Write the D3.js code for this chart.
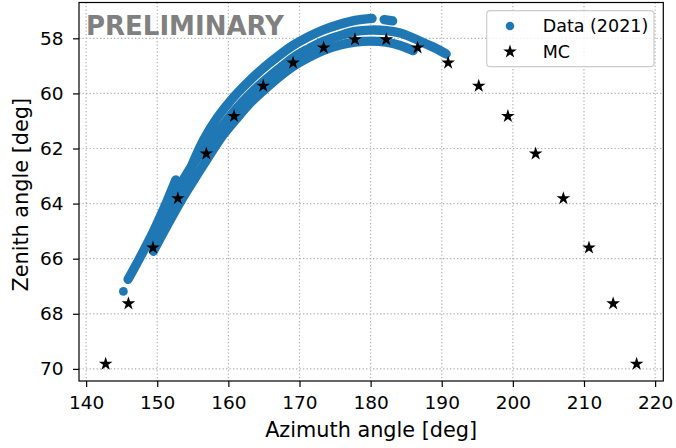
<!DOCTYPE html>
<html>
<head>
  <meta charset="UTF-8" />
  <script src="https://d3js.org/d3.v7.min.js"></script>
  <style>
    body { margin: 0; background: #fff; }
    text { font-family: "DejaVu Sans", sans-serif; }
  </style>
</head>
<body>
  <script>
    // MC points (azimuth, zenith) in degrees
    var mcAz = [142.75, 145.95, 149.4, 152.9, 156.9, 160.8, 164.9, 169.1, 173.4, 177.8,
                182.2, 186.6, 190.9, 195.2, 199.3, 203.2, 207.1, 210.7, 214.1, 217.4];
    var mcZen = [69.82, 67.63, 65.6, 63.81, 62.19, 60.83, 59.73, 58.89, 58.34, 58.04,
                 58.04, 58.34, 58.89, 59.73, 60.83, 62.19, 63.81, 65.6, 67.63, 69.82];

    var dataLone = [[145.24, 67.19]];
    var dataTail = [[145.9, 66.75], [147.55, 65.97], [149.42, 65.03], [151.08, 64.09], [152.6, 63.14]];
    var dataUpper = [[153.92, 63.25], [155.18, 62.42], [156.59, 61.65], [158.42, 60.89], [160.39, 60.24],
                     [162.5, 59.66], [164.61, 59.15], [166.85, 58.68], [168.96, 58.28], [171.21, 57.95],
                     [173.32, 57.7], [175.57, 57.5], [177.82, 57.35], [180.21, 57.28]];
    var dataUpperEnd = [[181.9, 57.32], [183.1, 57.37]];
    var dataMiddle = [[149.28, 65.32], [150.69, 64.59], [152.09, 63.87], [153.64, 63.14], [155.33, 62.45],
                      [157.01, 61.87], [158.98, 61.25], [160.95, 60.6], [163.06, 60.02], [165.03, 59.55],
                      [167.14, 59.1], [169.24, 58.68], [171.35, 58.37], [173.46, 58.1], [175.71, 57.9],
                      [177.82, 57.75], [179.93, 57.7], [182.18, 57.72], [184.15, 57.81], [185.98, 57.99],
                      [187.66, 58.19], [189.21, 58.37], [190.62, 58.57]];
    var dataLower = [[149.45, 65.73], [151.18, 64.9], [153.3, 63.92], [155.28, 63.09], [157.25, 62.29],
                     [159.08, 61.57], [161.05, 60.95], [163.0, 60.37], [165.1, 59.86], [167.2, 59.39],
                     [169.28, 58.99], [171.38, 58.68], [173.46, 58.43], [175.71, 58.24], [177.82, 58.14],
                     [179.93, 58.1], [182.18, 58.14], [184.15, 58.26], [185.98, 58.45]];

    var xTicks = [140, 150, 160, 170, 180, 190, 200, 210, 220];
    var yTicks = [58, 60, 62, 64, 66, 68, 70];

    var width = 676,
      height = 448;
    // plot area edges (px)
    var pL = 79, pR = 663.3, pT = 2.5, pB = 381;
    var blue = "#1f77b4";

    var svg = d3.select("body").append("svg")
      .attr("width", width)
      .attr("height", height);

    var x = d3.scaleLinear().domain([139.0, 221.15]).range([pL, pR]);
    var y = d3.scaleLinear().domain([56.7, 70.44]).range([pT, pB]);

    // grid (dotted)
    var grid = svg.append("g");
    grid.selectAll("line.gx").data(xTicks).enter().append("line")
      .attr("class", "gx")
      .attr("x1", d => x(d)).attr("x2", d => x(d))
      .attr("y1", pT).attr("y2", pB);
    grid.selectAll("line.gy").data(yTicks).enter().append("line")
      .attr("class", "gy")
      .attr("y1", d => y(d)).attr("y2", d => y(d))
      .attr("x1", pL).attr("x2", pR);
    grid.selectAll("line")
      .attr("stroke", "#b0b0b0")
      .attr("stroke-width", 1.2)
      .attr("stroke-dasharray", "1.3,2.2");

    // data tracks
    var line = d3.line()
      .x(d => x(d[0]))
      .y(d => y(d[1]))
      .curve(d3.curveCatmullRom);
    var tracks = [dataTail, dataMiddle, dataLower, dataUpper, dataUpperEnd];
    svg.append("g").selectAll("path").data(tracks).enter().append("path")
      .attr("d", line)
      .attr("fill", "none")
      .attr("stroke", blue)
      .attr("stroke-width", 9.3)
      .attr("stroke-linecap", "round")
      .attr("stroke-linejoin", "round");
    svg.append("g").selectAll("circle").data(dataLone).enter().append("circle")
      .attr("cx", d => x(d[0])).attr("cy", d => y(d[1]))
      .attr("r", 4.4).attr("fill", blue);

    // MC stars
    var star = d3.symbol().type(d3.symbolStar).size(58);
    svg.append("g").selectAll("path").data(mcAz).enter().append("path")
      .attr("d", star)
      .attr("transform", (d, i) => "translate(" + x(d) + "," + y(mcZen[i]) + ")")
      .attr("fill", "#000");

    // axes
    var xAxis = svg.append("g")
      .attr("transform", "translate(0," + pB + ")")
      .call(d3.axisBottom(x).tickValues(xTicks).tickSize(6).tickPadding(9));
    var yAxis = svg.append("g")
      .attr("transform", "translate(" + pL + ",0)")
      .call(d3.axisLeft(y).tickValues(yTicks).tickSize(6).tickPadding(9.5));
    [xAxis, yAxis].forEach(function (a) {
      a.select(".domain").remove();
      a.selectAll("line").attr("stroke", "#000").attr("stroke-width", 1.2);
      a.selectAll("text")
        .attr("fill", "#000")
        .style("font-size", "18.5px")
        .style("font-family", "DejaVu Sans");
    });

    // frame
    svg.append("rect")
      .attr("x", pL).attr("y", pT)
      .attr("width", pR - pL).attr("height", pB - pT)
      .attr("fill", "none")
      .attr("stroke", "#000")
      .attr("stroke-width", 1.2);

    // axis labels
    svg.append("text")
      .attr("x", (pL + pR) / 2).attr("y", 436.7)
      .attr("text-anchor", "middle")
      .style("font-size", "20.8px")
      .text("Azimuth angle [deg]");
    svg.append("text")
      .attr("transform", "translate(28.3," + ((pT + pB) / 2 + 3) + ") rotate(-90)")
      .attr("text-anchor", "middle")
      .style("font-size", "20.8px")
      .text("Zenith angle [deg]");

    // preliminary tag
    svg.append("text")
      .attr("x", 86).attr("y", 35)
      .attr("fill", "#808080")
      .style("font-size", "26px")
      .style("font-weight", "bold")
      .text("PRELIMINARY");

    // legend
    var lg = svg.append("g");
    lg.append("rect")
      .attr("x", 486.7).attr("y", 10.7)
      .attr("width", 167.3).attr("height", 56)
      .attr("rx", 3.5)
      .attr("fill", "#fff").attr("fill-opacity", 0.8)
      .attr("stroke", "#cccccc").attr("stroke-width", 1.2);
    lg.append("circle").attr("cx", 510).attr("cy", 26).attr("r", 4.25).attr("fill", blue);
    lg.append("path").attr("d", star).attr("transform", "translate(510,51.7)").attr("fill", "#000");
    lg.append("text").attr("x", 542.7).attr("y", 26).attr("dy", "0.36em")
      .style("font-size", "17.5px").text("Data (2021)");
    lg.append("text").attr("x", 542.7).attr("y", 51.7).attr("dy", "0.36em")
      .style("font-size", "17.5px").text("MC");
  </script>
</body>
</html>
